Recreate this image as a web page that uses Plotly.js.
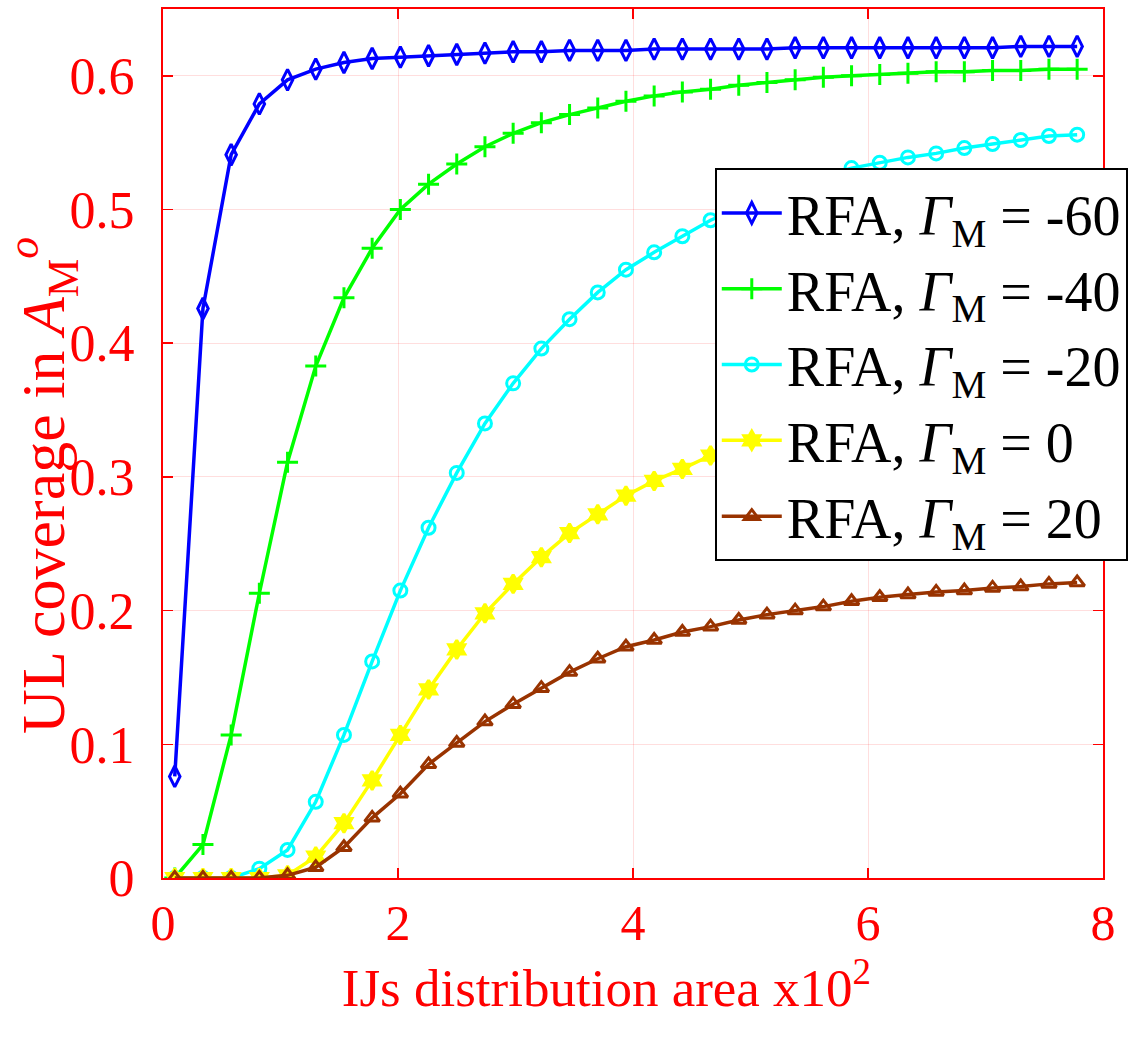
<!DOCTYPE html>
<html>
<head>
<meta charset="utf-8">
<script src="https://cdn.plot.ly/plotly-3.0.1.min.js"></script>
<style>html,body{margin:0;padding:0;background:#fff;}#chart{width:1134px;height:1039px;}</style>
</head>
<body>
<div id="chart"></div>
<script>
const xArea = [0.10, 0.34, 0.58, 0.82, 1.06, 1.30, 1.54, 1.78, 2.02, 2.26, 2.50, 2.74, 2.98, 3.22, 3.46, 3.70, 3.94, 4.18, 4.42, 4.66, 4.90, 5.14, 5.38, 5.62, 5.86, 6.10, 6.34, 6.58, 6.82, 7.06, 7.30, 7.54, 7.78];

const covM60 = [0.076, 0.426, 0.541, 0.579, 0.597, 0.605, 0.610, 0.613, 0.614, 0.615, 0.616, 0.617, 0.618, 0.618, 0.619, 0.619, 0.619, 0.620, 0.620, 0.620, 0.620, 0.620, 0.621, 0.621, 0.621, 0.621, 0.621, 0.621, 0.621, 0.621, 0.622, 0.622, 0.622];
const covM40 = [0.000, 0.025, 0.107, 0.213, 0.311, 0.383, 0.434, 0.471, 0.500, 0.519, 0.534, 0.547, 0.557, 0.565, 0.571, 0.576, 0.581, 0.585, 0.588, 0.590, 0.593, 0.595, 0.597, 0.599, 0.600, 0.601, 0.602, 0.603, 0.603, 0.604, 0.604, 0.605, 0.605];
const covM20 = [0.000, 0.000, 0.000, 0.007, 0.021, 0.057, 0.107, 0.162, 0.215, 0.262, 0.303, 0.340, 0.370, 0.396, 0.418, 0.438, 0.455, 0.468, 0.480, 0.492, 0.501, 0.510, 0.518, 0.525, 0.531, 0.535, 0.539, 0.542, 0.546, 0.549, 0.552, 0.555, 0.556];
const cov0   = [0.000, 0.000, 0.000, 0.000, 0.002, 0.016, 0.041, 0.073, 0.107, 0.141, 0.171, 0.198, 0.220, 0.240, 0.258, 0.272, 0.286, 0.297, 0.306, 0.316, 0.324, 0.332, 0.339, 0.345, 0.351, 0.356, 0.361, 0.365, 0.369, 0.373, 0.376, 0.379, 0.382];
const cov20  = [0.000, 0.000, 0.000, 0.000, 0.002, 0.008, 0.023, 0.045, 0.063, 0.085, 0.101, 0.117, 0.130, 0.142, 0.154, 0.164, 0.173, 0.178, 0.184, 0.188, 0.193, 0.197, 0.200, 0.203, 0.207, 0.210, 0.212, 0.214, 0.215, 0.217, 0.218, 0.220, 0.221];

const seriesNames = ['RFA, <i>Γ</i><sub>M</sub> = -60', 'RFA, <i>Γ</i><sub>M</sub> = -40', 'RFA, <i>Γ</i><sub>M</sub> = -20', 'RFA, <i>Γ</i><sub>M</sub> = 0', 'RFA, <i>Γ</i><sub>M</sub> = 20'];
const xTickVals = [0, 2, 4, 6, 8];
const yTickVals = [0, 0.1, 0.2, 0.3, 0.4, 0.5, 0.6];
const xTitle = 'IJs distribution area x10<sup>2</sup>';
const yTitle = 'UL coverage in <i>A</i><sub>M</sub><sup><i>o</i></sup>';

const colors = ['#0000FF', '#00FF00', '#00FFFF', '#FFFF00', '#993300'];
const symbols = ['diamond-tall-open', 'cross-thin-open', 'circle-open', 'hexagram', 'triangle-up-open'];
const sizes = [15, 15, 13, 14, 13];
const ys = [covM60, covM40, covM20, cov0, cov20];

const traces = ys.map((y, i) => ({
  x: xArea, y: y, type: 'scatter', mode: 'lines+markers', name: seriesNames[i],
  line: {color: colors[i], width: 3.5},
  marker: {symbol: symbols[i], size: sizes[i], color: colors[i], line: {color: colors[i], width: 3}}
}));

const font = 'Liberation Serif, DejaVu Serif, serif';
const axisCommon = {
  showline: true, linecolor: '#FF0000', linewidth: 2, mirror: 'ticks',
  ticks: 'inside', ticklen: 10, tickwidth: 1.5, tickcolor: '#FF0000',
  showgrid: true, gridcolor: 'rgba(255,0,0,0.13)', gridwidth: 1,
  zeroline: false
};

const layout = {
  width: 1134, height: 1039,
  paper_bgcolor: '#FFFFFF', plot_bgcolor: '#FFFFFF',
  margin: {l: 163, r: 31, t: 9, b: 161, autoexpand: false},
  showlegend: true,
  xaxis: Object.assign({}, axisCommon, {
    range: [0, 8], tickvals: xTickVals, ticktext: xTickVals.map(String),
    ticklabelstandoff: 0,
    tickfont: {family: font, size: 50, color: '#FF0000'},
    title: {text: xTitle + '&nbsp;&nbsp;&nbsp;&nbsp;', font: {family: font, size: 53, color: '#FF0000'}, standoff: 6}
  }),
  yaxis: Object.assign({}, axisCommon, {
    range: [0, 0.65], tickvals: yTickVals, ticktext: yTickVals.map(String),
    ticklabelstandoff: 16,
    tickfont: {family: font, size: 52, color: '#FF0000'}
  }),
  annotations: [{
    text: yTitle, textangle: -90, showarrow: false,
    xref: 'paper', yref: 'paper', x: -0.128, y: 0.452, xanchor: 'center', yanchor: 'middle',
    font: {family: font, size: 62, color: '#FF0000'}
  }],
  legend: {
    x: 0.587, y: 0.817, xanchor: 'left', yanchor: 'top',
    bgcolor: '#FFFFFF', bordercolor: '#000000', borderwidth: 2,
    font: {family: font, size: 56, color: '#000000'},
    itemwidth: 60
  }
};

Plotly.newPlot('chart', traces, layout, {displayModeBar: false, staticPlot: true});
</script>
</body>
</html>
